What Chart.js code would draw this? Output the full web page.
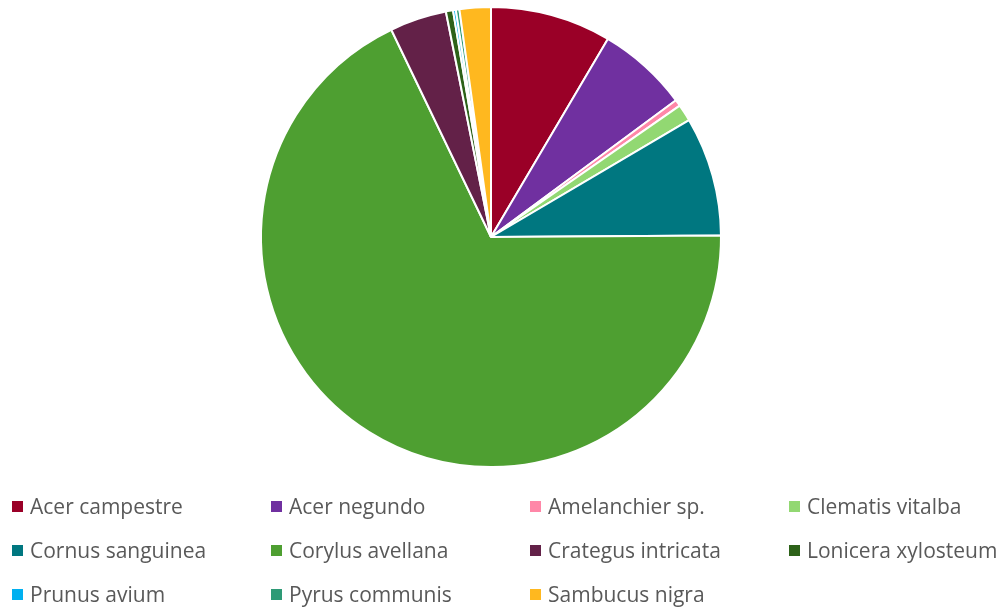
<!DOCTYPE html>
<html>
<head>
<meta charset="utf-8">
<style>
  html, body { margin: 0; padding: 0; background: #ffffff; }
  #wrap { width: 1004px; height: 609px; position: relative; }
</style>
<script src="https://cdn.jsdelivr.net/npm/chart.js@4/dist/chart.umd.min.js"></script>
</head>
<body>
<div id="wrap"><canvas id="pie" width="1004" height="609"></canvas></div>
<script>
// Species share of the shrub layer (%)
const species = [
  'Acer campestre', 'Acer negundo', 'Amelanchier sp.', 'Clematis vitalba',
  'Cornus sanguinea', 'Corylus avellana', 'Crategus intricata', 'Lonicera xylosteum',
  'Prunus avium', 'Pyrus communis', 'Sambucus nigra'
];
const shares = [8.5, 6.4, 0.45, 1.2, 8.4, 68.1, 4.0, 0.5, 0.2, 0.25, 2.2];
const colours = [
  '#9A0027', '#7030A0', '#FF87A8', '#92D872',
  '#007780', '#4E9F31', '#632148', '#2D6219',
  '#00B0F0', '#2E9A76', '#FFB81F'
];

// Legend laid out as a 4-column grid under the pie
const gridLegend = {
  id: 'gridLegend',
  afterDraw(chart) {
    const ctx = chart.ctx;
    const labels = chart.data.labels;
    const bg = chart.data.datasets[0].backgroundColor;
    const colX = [12, 271, 530, 789];
    const rowY = [507, 551, 595];
    ctx.save();
    ctx.font = '21px "Open Sans", sans-serif';
    ctx.textBaseline = 'middle';
    labels.forEach((lab, i) => {
      const x = colX[i % 4];
      const y = rowY[Math.floor(i / 4)];
      ctx.fillStyle = bg[i];
      ctx.fillRect(x, y - 6, 11, 11);
      ctx.fillStyle = '#595959';
      ctx.fillText(lab, x + 18, y + 1);
    });
    ctx.restore();
  }
};

new Chart(document.getElementById('pie'), {
  type: 'pie',
  data: {
    labels: species,
    datasets: [{
      data: shares,
      backgroundColor: colours,
      borderColor: '#ffffff',
      borderWidth: 2
    }]
  },
  options: {
    responsive: false,
    animation: false,
    layout: { padding: { top: 6, bottom: 141, left: 0, right: 22 } },
    plugins: {
      legend: { display: false },
      tooltip: { enabled: false }
    }
  },
  plugins: [gridLegend]
});
</script>
</body>
</html>
